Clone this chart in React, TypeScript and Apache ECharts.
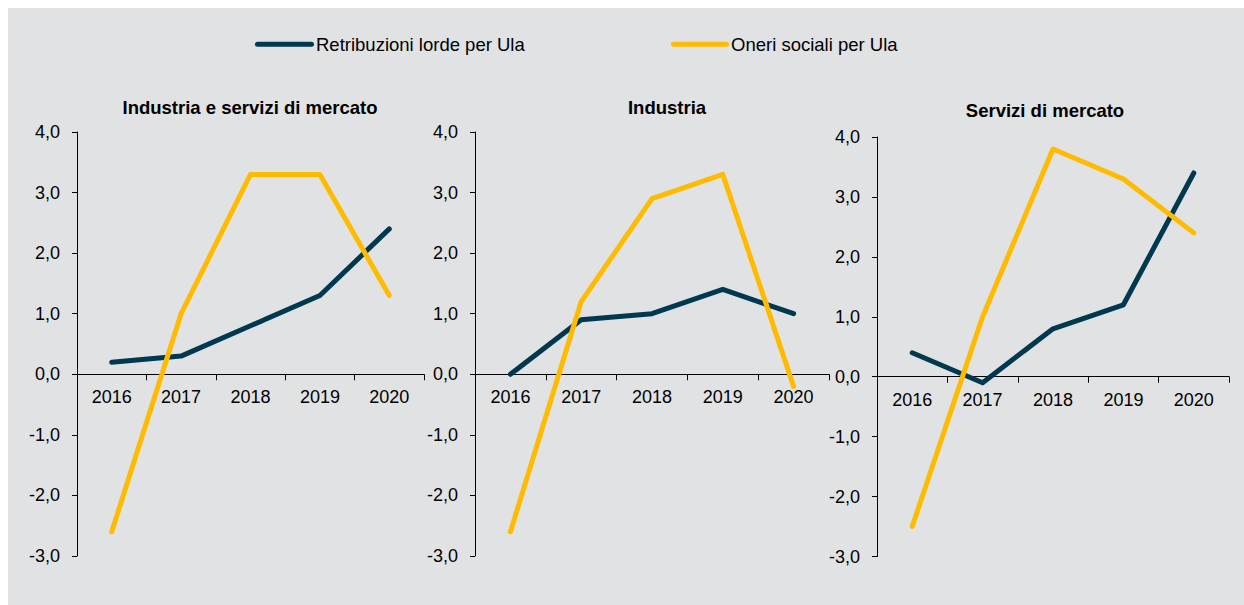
import React, { useEffect, useRef } from 'react';
import * as echarts from 'echarts';

const years = ['2016', '2017', '2018', '2019', '2020'];
const panelTitles = ['Industria e servizi di mercato', 'Industria', 'Servizi di mercato'];
const seriesNames = ['Retribuzioni lorde per Ula', 'Oneri sociali per Ula'];
const retribuzioniTotale = [0.2, 0.3, 0.8, 1.3, 2.4];
const oneriTotale = [-2.6, 1.0, 3.3, 3.3, 1.3];
const retribuzioniIndustria = [0.0, 0.9, 1.0, 1.4, 1.0];
const oneriIndustria = [-2.6, 1.2, 2.9, 3.3, -0.2];
const retribuzioniServizi = [0.4, -0.1, 0.8, 1.2, 3.4];
const oneriServizi = [-2.5, 1.0, 3.8, 3.3, 2.4];
const yMin = -3;
const yMax = 4;
const yStep = 1;

const panelData = [
  [retribuzioniTotale, oneriTotale],
  [retribuzioniIndustria, oneriIndustria],
  [retribuzioniServizi, oneriServizi],
];

const COLORS = ['#00384f', '#ffbb00'];
const BG = '#e1e2e4';
const FONT = '"Liberation Sans", Arial, sans-serif';

const grids = [
  { left: 69, top: 124, width: 347, height: 424 },
  { left: 467, top: 124, width: 354, height: 424 },
  { left: 869, top: 129, width: 352, height: 419.5 },
];
const titlePos = [
  { x: 242, y: 100 },
  { x: 659, y: 99.5 },
  { x: 1037, y: 103 },
];
const legendPos = [
  { x: 249.5, y: 36.2, len: 54, textX: 308 },
  { x: 665.5, y: 36.2, len: 53, textX: 723 },
];

export default function App() {
  const ref = useRef<HTMLDivElement>(null);
  useEffect(() => {
    if (!ref.current) return;
    const chart = echarts.init(ref.current, undefined, { renderer: 'svg' });
    const fmt = (v: number) => v.toFixed(1).replace('.', ',');
    const legendGraphics: any[] = [];
    seriesNames.forEach((n, i) => {
      const p = legendPos[i];
      legendGraphics.push({
        type: 'line',
        shape: { x1: p.x, y1: p.y, x2: p.x + p.len, y2: p.y },
        style: { stroke: COLORS[i], lineWidth: 5, lineCap: 'round' },
        silent: true,
      });
      legendGraphics.push({
        type: 'text',
        x: p.textX,
        y: p.y,
        style: {
          text: n,
          fontFamily: FONT,
          fontSize: 18.5,
          fill: '#000',
          textAlign: 'left',
          textVerticalAlign: 'middle',
        },
        silent: true,
      });
    });
    const option: any = {
      animation: false,
      backgroundColor: BG,
      textStyle: { fontFamily: FONT },
      title: panelTitles.map((t, i) => ({
        text: t,
        left: titlePos[i].x,
        top: titlePos[i].y - 10,
        textAlign: 'center',
        padding: 0,
        textStyle: { fontFamily: FONT, fontSize: 18.5, fontWeight: 'bold', color: '#000' },
      })),
      graphic: legendGraphics,
      grid: grids.map((g) => ({ ...g, containLabel: false })),
      xAxis: grids.map((g, i) => ({
        type: 'category',
        gridIndex: i,
        data: years,
        boundaryGap: true,
        offset: -g.height * (0 - yMin) / (yMax - yMin),
        axisLine: { onZero: false, lineStyle: { color: '#000', width: 1 } },
        axisTick: { show: true, length: 6, lineStyle: { color: '#000' } },
        axisLabel: { margin: 14, fontSize: 18, color: '#000', fontFamily: FONT },
        splitLine: { show: false },
      })),
      yAxis: grids.map((_, i) => ({
        type: 'value',
        gridIndex: i,
        min: yMin,
        max: yMax,
        interval: yStep,
        axisLine: { show: true, lineStyle: { color: '#000', width: 1 } },
        axisTick: { show: true, length: 5, lineStyle: { color: '#000' } },
        axisLabel: { margin: 17, fontSize: 18, color: '#000', fontFamily: FONT, formatter: fmt },
        splitLine: { show: false },
      })),
      series: panelData.flatMap((pair, i) =>
        pair.map((vals, j) => ({
          type: 'line',
          name: seriesNames[j],
          xAxisIndex: i,
          yAxisIndex: i,
          data: vals,
          symbol: 'none',
          showSymbol: false,
          color: COLORS[j],
          lineStyle: { color: COLORS[j], width: 5, cap: 'round', join: 'round' },
          z: 3 + j,
        }))
      ),
    };
    chart.setOption(option);
    return () => chart.dispose();
  }, []);
  return (
    <div
      ref={ref}
      style={{ position: 'fixed', left: 8, top: 8, width: 1236, height: 597, background: BG }}
    />
  );
}
